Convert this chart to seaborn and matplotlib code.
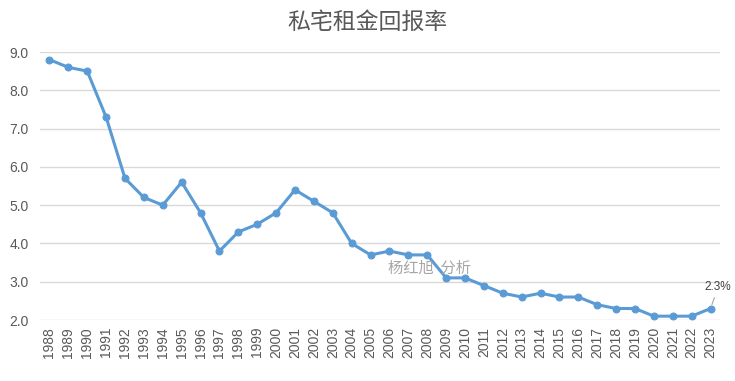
import matplotlib
matplotlib.use("Agg")
import matplotlib.pyplot as plt
import seaborn as sns
import pandas as pd

years = list(range(1988, 2024))
rental_yield = [8.8, 8.6, 8.5, 7.3, 5.7, 5.2, 5.0, 5.6, 4.8, 3.8,
                4.3, 4.5, 4.8, 5.4, 5.1, 4.8, 4.0, 3.7, 3.8, 3.7,
                3.7, 3.1, 3.1, 2.9, 2.7, 2.6, 2.7, 2.6, 2.6, 2.4,
                2.3, 2.3, 2.1, 2.1, 2.1, 2.3]
y_ticks = [2.0, 3.0, 4.0, 5.0, 6.0, 7.0, 8.0, 9.0]

df = pd.DataFrame({"pos": range(len(years)), "year": years, "value": rental_yield})

sns.set_style("white")
plt.rcParams['font.family'] = ['Noto Sans CJK SC', 'DejaVu Sans']

fig = plt.figure(figsize=(7.35, 3.81), dpi=100)
ax = fig.add_axes([40/735, 1-320/381, 680/735, 268/381])

line_color = "#5B9BD5"
sns.lineplot(data=df, x="pos", y="value", ax=ax, color=line_color, linewidth=2.2,
             marker="o", markersize=5, markeredgecolor=line_color)

ax.set_xlim(-0.5, len(years) - 0.5)
ax.set_ylim(2.0, 9.0)
ax.set_yticks(y_ticks)
ax.set_yticklabels([f"{t:.1f}" for t in y_ticks], color="#595959", fontsize=10,
                   family=['Liberation Sans', 'DejaVu Sans'])
ax.set_xticks(df["pos"])
ax.set_xticklabels([str(y) for y in years], rotation=90, color="#595959", fontsize=10,
                   family=['Liberation Sans', 'DejaVu Sans'])
ax.tick_params(axis="x", length=0, pad=5)
ax.tick_params(axis="y", length=0, pad=8)
ax.yaxis.grid(True, color="#D9D9D9", linewidth=1)
for s in ax.spines.values():
    s.set_visible(False)
ax.set_xlabel("")
ax.set_ylabel("")
ax.set_axisbelow(True)

fig.text(0.5, 1-22/381, "私宅租金回报率", ha="center", va="center",
         fontsize=16.5, color="#595959")

# watermark
ax.text(20.1, 3.36, "杨红旭  分析", ha="center", va="center", fontsize=11,
        color="#A6A6A6")

# last point label with short leader line
last = len(years) - 1
ax.annotate(f"{rental_yield[-1]}%", xy=(last, rental_yield[-1]),
            xytext=(last + 0.4, 2.86), ha="center", va="center",
            fontsize=8.5, color="#404040", family=['Liberation Sans', 'DejaVu Sans'],
            arrowprops=dict(arrowstyle="-", color="#A6A6A6", lw=0.8,
                            shrinkA=1, shrinkB=3),
            annotation_clip=False)

fig.savefig("out.png", dpi=100)
